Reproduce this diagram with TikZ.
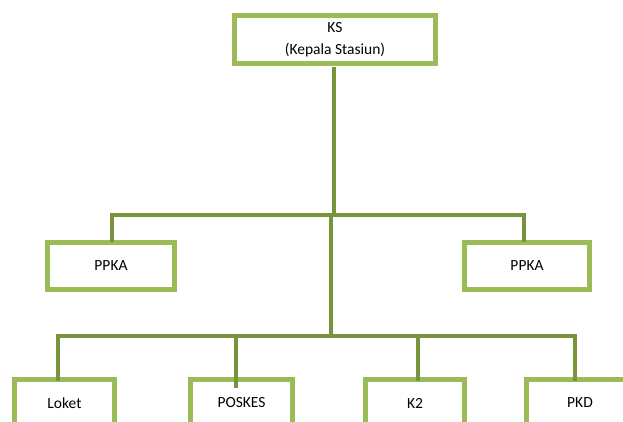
\documentclass[tikz,border=0pt]{standalone}
\usepackage{fontspec}
\setmainfont{Carlito}
\usepackage{tikz}
\definecolor{boxgreen}{HTML}{9BBB59}
\definecolor{linkgreen}{HTML}{77933C}
\tikzset{unitbox/.style={rectangle, draw=boxgreen, fill=white, line width=5pt, minimum height=47pt, inner sep=0pt, font=\fontsize{15.5}{22}\selectfont}}
\tikzset{link/.style={draw=linkgreen, line width=4.5pt}}

\begin{document}
\begin{tikzpicture}[x=1pt,y=-1pt]
    \useasboundingbox (0,0) rectangle (623,421);
    \clip (0,0) rectangle (623,421);

    \node[unitbox, minimum width=201pt, minimum height=48pt, align=center]  (ks)     at (335,39.5)  {KS\\(Kepala Stasiun)};
    \node[unitbox, minimum width=127pt]   (ppka1)   at (111,266)   {PPKA};
    \node[unitbox, minimum width=125pt]   (ppka2)   at (527,266)   {PPKA};
    \node[unitbox, minimum width=100pt]   (loket)   at (64.5,403)  {Loket};
    \node[unitbox, minimum width=102pt]   (poskes)  at (241.5,403) {POSKES};
    \node[unitbox, minimum width=99pt]    (kdua)    at (415,403)   {K2};
    \node[unitbox, minimum width=107pt]   (pkd)     at (580,403)   {PKD};

    \coordinate (hubA) at (334,215);
    \coordinate (hubB) at (331,336);

    % first level
    \draw[link] ([xshift=-1pt,yshift=-1pt]ks.south) -- (hubA);
    \draw[link] ([xshift=1pt,yshift=-2pt]ppka1.north) |- (hubA) -| ([xshift=-3pt,yshift=-2pt]ppka2.north);
    \draw[link] ([xshift=-3pt]hubA) -- (hubB);

    % second level
    \draw[link] ([xshift=-6.5pt,yshift=-4pt]loket.north) |- (hubB) -| ([xshift=-5pt,yshift=-4pt]pkd.north);
    \draw[link] ([xshift=-5.5pt]poskes.north |- hubB) -- ([xshift=-5.5pt,yshift=-11pt]poskes.north);
    \draw[link] ([xshift=3pt]kdua.north |- hubB) -- ([xshift=3pt,yshift=-4pt]kdua.north);
\end{tikzpicture}
\end{document}
